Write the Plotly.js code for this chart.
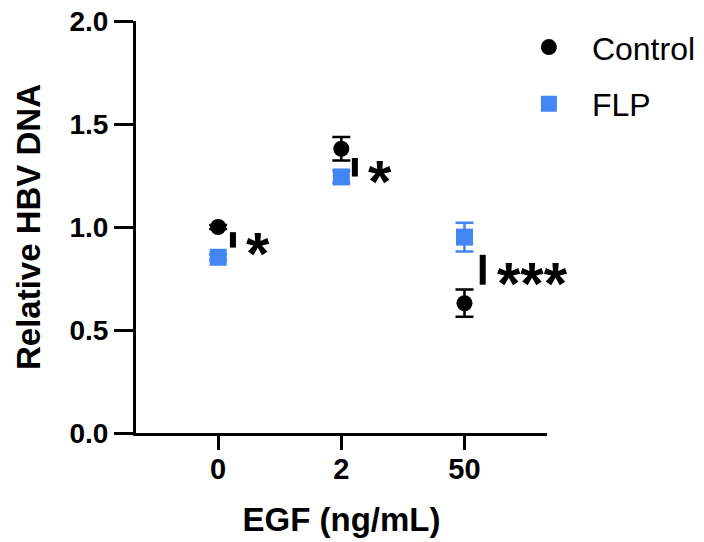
<!DOCTYPE html>
<html>
<head>
<meta charset="utf-8">
<script src="https://cdn.plot.ly/plotly-3.0.1.min.js"></script>
<style>html,body{margin:0;padding:0;background:#fff;}#chart{width:704px;height:542px;}</style>
</head>
<body>
<div id="chart"></div>
<script>
var categories = ['0', '2', '50'];
var controlMean = [1.0, 1.38, 0.63];
var controlErr = [0.01, 0.057, 0.066];
var flpMean = [0.853, 1.243, 0.951];
var flpErr = [0.015, 0.03, 0.07];
var sigLabels = ['*', '*', '***'];
var sigLow = [0.90, 1.245, 0.72];
var sigHigh = [0.975, 1.335, 0.865];
var yTicks = [0, 0.5, 1.0, 1.5, 2.0];
var yTickText = ['0.0', '0.5', '1.0', '1.5', '2.0'];

var idx = categories.map(function (c, i) { return i; });
var blue = '#4285F4';
var font = 'Liberation Sans, Arial, sans-serif';

var traces = [
  {
    type: 'scatter', mode: 'markers', name: 'Control', legendgroup: 'a',
    x: idx, y: controlMean,
    error_y: { type: 'data', array: controlErr, visible: true, color: '#000', thickness: 2.5, width: 9 },
    marker: { symbol: 'circle', size: 16, color: '#000' }
  },
  {
    type: 'scatter', mode: 'markers', name: 'FLP', legendgroup: 'b',
    x: idx, y: flpMean,
    error_y: { type: 'data', array: flpErr, visible: true, color: blue, thickness: 2.5, width: 9 },
    marker: { symbol: 'square', size: 17, color: blue }
  }
];

var barOffset = [0.12, 0.11, 0.148];
var starOffset = [0.21, 0.20, 0.25];
var shapes = [];
var annotations = [];
for (var i = 0; i < categories.length; i++) {
  shapes.push({
    type: 'line', xref: 'x', yref: 'y',
    x0: i + barOffset[i], x1: i + barOffset[i], y0: sigLow[i], y1: sigHigh[i],
    line: { color: '#000', width: 6 }
  });
  annotations.push({
    xref: 'x', yref: 'y', x: i + starOffset[i], y: (sigLow[i] + sigHigh[i]) / 2,
    text: '<b>' + sigLabels[i] + '</b>', showarrow: false, xanchor: 'left', yanchor: 'middle',
    yshift: -14,
    font: { family: font, size: 60, color: '#000' }
  });
}

var layout = {
  width: 704, height: 542,
  margin: { l: 136, r: 157, t: 21, b: 109, autoexpand: false },
  paper_bgcolor: '#fff', plot_bgcolor: '#fff',
  showlegend: true,
  legend: {
    x: 0.9, xanchor: 'left', y: 1.003, yanchor: 'top',
    font: { family: font, size: 32, color: '#000' },
    tracegroupgap: 12, itemwidth: 76, bgcolor: 'rgba(0,0,0,0)'
  },
  xaxis: {
    type: 'linear', range: [-0.667, 2.67],
    tickvals: idx, ticktext: categories,
    showline: true, linecolor: '#000', linewidth: 3,
    ticks: 'outside', ticklen: 14, tickwidth: 3, tickcolor: '#000',
    ticklabelstandoff: -6,
    showgrid: false, zeroline: false,
    tickfont: { family: font, size: 29, color: '#000', weight: 'bold' },
    title: { text: '<b>EGF (ng/mL)</b>', font: { family: font, size: 33, color: '#000' }, standoff: 25 }
  },
  yaxis: {
    range: [0, 2], tickvals: yTicks, ticktext: yTickText,
    showline: true, linecolor: '#000', linewidth: 3,
    ticks: 'outside', ticklen: 19, tickwidth: 3, tickcolor: '#000',
    showgrid: false, zeroline: false,
    tickfont: { family: font, size: 28, color: '#000', weight: 'bold' },
    title: { text: '<b>Relative HBV DNA</b>', font: { family: font, size: 33, color: '#000' }, standoff: 19 }
  },
  shapes: shapes,
  annotations: annotations
};

Plotly.newPlot('chart', traces, layout, { displayModeBar: false, responsive: false });
</script>
</body>
</html>
